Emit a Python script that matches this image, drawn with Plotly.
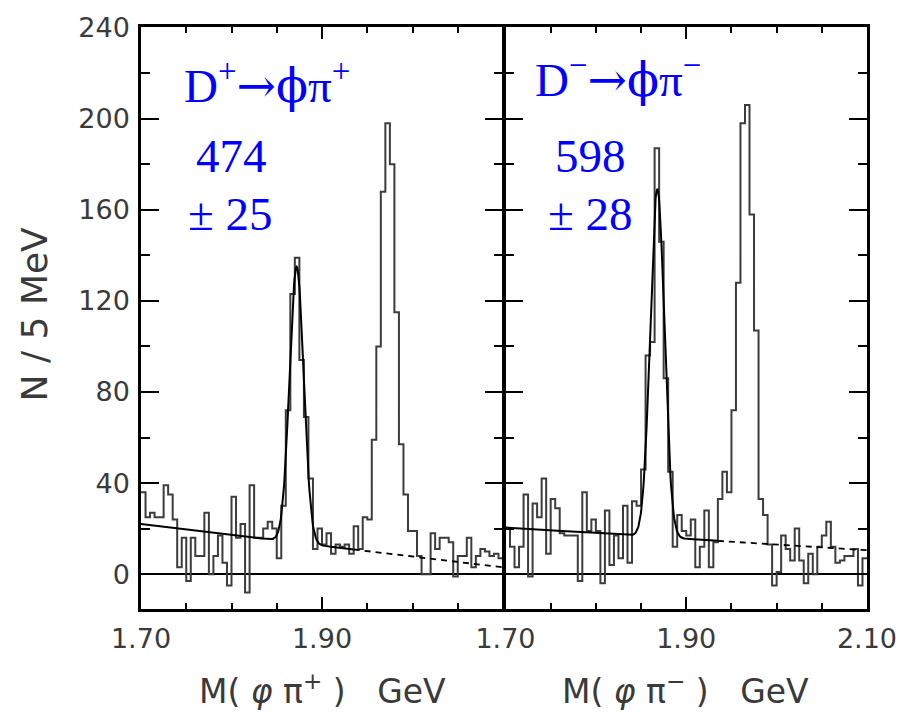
import numpy as np
import plotly.graph_objects as go

# Binning of the phi-pi invariant mass (GeV)
MASS_LO, MASS_HI, BIN_W = 1.70, 2.10, 0.005

# Entries per 5 MeV bin, D+ -> phi pi+ (left) and D- -> phi pi- (right)
counts_plus = [
    36, 25, 27, 25, 25, 39, 35, 24, 3, 16,
    -3, 16, 8, 8, 27, 0, 8, 17, 5, -5,
    34, 16, 22, -8, 39, 16, 16, 20, 23, 20,
    7, 30, 72, 123, 139, 94, 69, 42, 11, 20,
    13, 18, 9, 13, 12, 13, 9, 21, 11, 25,
    24, 59, 100, 168, 198, 180, 115, 57, 35, 19,
    19, 8, 0, 0, 18, 11, 16, 16, 14, -1,
    8, 8, 16, 3, 8, 11, 10, 8, 9, 7,
]
counts_minus = [
    20, 12, 3, 12, 35, -1, 31, 25, 42, 9,
    33, 29, 18, 17, 17, 17, -3, 36, 19, 24,
    19, -4, 28, 4, 17, 7, 30, 5, 32, 30,
    46, 96, 102, 187, 146, 86, 45, 12, 26, 19,
    17, 24, 3, 12, 28, 3, 14, 33, 45, 36,
    72, 128, 198, 206, 158, 107, 33, 26, 13, -5,
    1, 17, 11, 6, 20, 6, -4, 9, 0, 12,
    17, 23, 12, 5, 6, 8, 8, 11, -5, 7,
]

# Fit results: Gaussian signal on a linear background
yield_plus, yield_plus_err = 474, 25
yield_minus, yield_minus_err = 598, 28
mean_plus, mean_minus = 1.872, 1.868
sigma_plus, sigma_minus = 0.0078, 0.0078
bkg_plus = (22.0, 3.0)     # background level at 1.70 and at 2.10 GeV
bkg_minus = (20.5, 10.5)
FIT_HI = 1.935             # upper end of the fitted range

x_tick_left = [1.70, 1.90]
x_tick_right = [1.70, 1.90, 2.10]
y_ticks = [0, 40, 80, 120, 160, 200, 240]

W, H = 909, 715
ML, MR, MT, MB = 141, 36, 24, 106
PW, PH = W - ML - MR, H - MT - MB
LW = 2.5                    # frame line width
SPLIT = 365 / PW
SPLIT2 = (365 + LW) / PW    # shifted so the two panels share one divider line


def bkg(m, b):
    return b[0] + (b[1] - b[0]) * (m - MASS_LO) / (MASS_HI - MASS_LO)


def fit_curve(m, n_sig, mean, sigma, b):
    amp = n_sig * BIN_W / (sigma * np.sqrt(2 * np.pi))
    return amp * np.exp(-0.5 * ((m - mean) / sigma) ** 2) + bkg(m, b)


fig = go.Figure()

panels = [
    (counts_plus, yield_plus, mean_plus, sigma_plus, bkg_plus, "x", "y"),
    (counts_minus, yield_minus, mean_minus, sigma_minus, bkg_minus, "x2", "y2"),
]
for counts, n_sig, mean, sigma, b, xa, ya in panels:
    edges = MASS_LO + BIN_W * np.arange(len(counts) + 1)
    fig.add_trace(go.Scatter(
        x=edges, y=list(counts) + [counts[-1]], mode="lines", line_shape="hv",
        line=dict(color="#3c3c3c", width=2), xaxis=xa, yaxis=ya, showlegend=False,
        hoverinfo="skip"))
    m_fit = np.linspace(MASS_LO, FIT_HI, 400)
    fig.add_trace(go.Scatter(
        x=m_fit, y=fit_curve(m_fit, n_sig, mean, sigma, b), mode="lines",
        line=dict(color="black", width=2), xaxis=xa, yaxis=ya, showlegend=False,
        hoverinfo="skip"))
    m_ext = np.array([FIT_HI, MASS_HI])
    fig.add_trace(go.Scatter(
        x=m_ext, y=bkg(m_ext, b), mode="lines",
        line=dict(color="black", width=1.8, dash="6px,5px"), xaxis=xa, yaxis=ya,
        showlegend=False, hoverinfo="skip"))

tick_font = dict(family="DejaVu Sans, Arial, sans-serif", size=27, color="#3a3a3a")

x_common = dict(
    range=[MASS_LO, MASS_HI], ticks="inside", ticklen=12, tickwidth=1.5, tickcolor="black",
    minor=dict(dtick=0.05, tick0=MASS_LO, ticks="inside", ticklen=6, tickwidth=1.5,
               tickcolor="black"),
    showline=True, linewidth=LW, linecolor="black", mirror="ticks",
    showgrid=False, zeroline=False, tickfont=tick_font, ticklabelstandoff=4,
)
y_common = dict(
    range=[-15.3, 240.3], tickvals=y_ticks, ticktext=[str(v) for v in y_ticks],
    ticks="inside", ticklen=18, tickwidth=1.5, tickcolor="black",
    minor=dict(dtick=20, tick0=0, ticks="inside", ticklen=9, tickwidth=1.5,
               tickcolor="black"),
    showline=True, linewidth=LW, linecolor="black", mirror="ticks", showgrid=False,
    zeroline=True, zerolinecolor="black", zerolinewidth=1.8, tickfont=tick_font,
    ticklabelstandoff=3,
)

fig.update_layout(
    width=W, height=H, margin=dict(l=ML, r=MR, t=MT, b=MB),
    paper_bgcolor="white", plot_bgcolor="white",
    xaxis=dict(x_common, domain=[0, SPLIT], anchor="y", tickvals=x_tick_left,
               ticktext=[f"{v:.2f}" for v in x_tick_left]),
    xaxis2=dict(x_common, domain=[SPLIT2, 1], anchor="y2", tickvals=x_tick_right,
                ticktext=[f"{v:.2f}" for v in x_tick_right]),
    yaxis=dict(y_common, domain=[0, 1], anchor="x"),
    yaxis2=dict(y_common, domain=[0, 1], anchor="x2", matches="y", showticklabels=False),
)


def px_x(px):
    return (px - ML) / PW


def px_y(py):
    return (H - MB - py) / PH


title_font = dict(family="DejaVu Sans, Arial, sans-serif", size=33, color="#3a3a3a")
blue_font = dict(family="Liberation Serif, Times New Roman, serif", size=47, color="#0000ff")
nb = "\u00a0"
sym = "<span style='font-family:DejaVu Serif'>{}</span>"
arrow_phi = sym.format("→") + sym.format("ϕ")

annotations = [
    dict(text=f"N{nb}/{nb}5{nb}MeV", x=px_x(34), y=px_y(312), textangle=-90,
         font=dict(title_font, size=36)),
    dict(text=f"M({nb}<i>φ</i>{nb}π<sup>+</sup>{nb}){nb}{nb}{nb}GeV",
         x=px_x(324), y=px_y(690), font=title_font),
    dict(text=f"M({nb}<i>φ</i>{nb}π<sup>−</sup>{nb}){nb}{nb}{nb}GeV",
         x=px_x(690), y=px_y(690), font=title_font),
    dict(text=f"D<sup>+</sup>{arrow_phi}π<sup>+</sup>", x=px_x(268), y=px_y(80),
         font=blue_font),
    dict(text=f"{yield_plus}", x=px_x(232), y=px_y(154), font=blue_font),
    dict(text=f"±{nb}{yield_plus_err}", x=px_x(231), y=px_y(212), font=blue_font),
    dict(text=f"D<sup>−</sup>{arrow_phi}π<sup>−</sup>", x=px_x(622), y=px_y(74),
         font=blue_font),
    dict(text=f"{yield_minus}", x=px_x(594), y=px_y(154), font=blue_font),
    dict(text=f"±{nb}{yield_minus_err}", x=px_x(594), y=px_y(212), font=blue_font),
]
for a in annotations:
    a.update(xref="paper", yref="paper", showarrow=False, xanchor="center",
             yanchor="middle")
fig.update_layout(annotations=annotations)

fig.write_html("out.html")
